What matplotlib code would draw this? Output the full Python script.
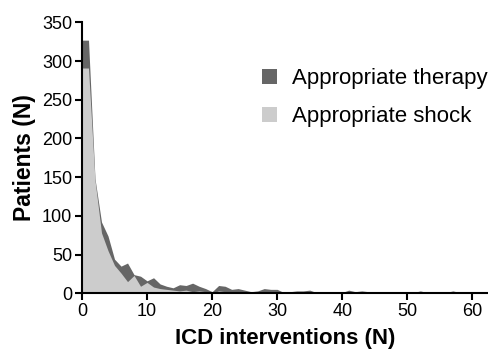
import matplotlib
matplotlib.use("Agg")
import matplotlib.pyplot as plt
import numpy as np

plt.rcParams['font.family'] = ['Liberation Sans', 'DejaVu Sans']

# number of ICD interventions per patient (0..60)
interventions = np.arange(0, 61)

# patients with appropriate therapy (ATP + shock)
therapy = [327, 327, 148, 92, 74, 44, 35, 39, 24, 22,
           16, 20, 12, 9, 7, 11, 10, 13, 9, 6,
           2, 10, 9, 5, 6, 4, 2, 3, 6, 5,
           5, 1, 2, 3, 3, 4, 1, 2, 2, 2,
           1, 4, 2, 3, 2, 1, 1, 1, 2, 1,
           1, 1, 3, 1, 1, 1, 1, 3, 1, 1, 1]

# patients with appropriate shock
shock = [291, 291, 146, 78, 55, 36, 26, 15, 23, 9,
         14, 8, 6, 5, 4, 3, 4, 2, 3, 2,
         0, 3, 2, 2, 1, 1, 1, 1, 1, 1,
         1, 0, 1, 1, 1, 1, 0, 1, 1, 1,
         0, 1, 1, 1, 1, 0, 1, 1, 1, 0,
         1, 1, 1, 1, 0, 1, 1, 1, 1, 0, 0]

fig = plt.figure(figsize=(4.88, 3.55), dpi=100)
ax = fig.add_axes([0.168, 0.174, 0.832, 0.763])

ax.fill_between(interventions, therapy, color='#666666', lw=0,
                label='Appropriate therapy')
ax.fill_between(interventions, shock, color='#cccccc', lw=0,
                label='Appropriate shock')

ax.set_xlim(0, 62.4)
ax.set_ylim(0, 350)
ax.set_xticks(range(0, 61, 10))
ax.set_yticks(range(0, 351, 50))

for side in ['top', 'right']:
    ax.spines[side].set_visible(False)
for side in ['left', 'bottom']:
    ax.spines[side].set_linewidth(1.5)
    ax.spines[side].set_zorder(5)
ax.tick_params(direction='out', length=5, width=1.5, labelsize=13, pad=2)

ax.set_xlabel('ICD interventions (N)', fontsize=16, fontweight='bold', labelpad=6)
ax.set_ylabel('Patients (N)', fontsize=16.5, fontweight='bold', labelpad=4)

ax.legend(loc='upper left', bbox_to_anchor=(0.537, 0.808),
          bbox_transform=fig.transFigure, frameon=False, borderpad=0,
          borderaxespad=0, fontsize=16, handlelength=0.68, handleheight=0.68,
          handletextpad=0.68, labelspacing=0.78)

fig.savefig('out.png', dpi=100)
